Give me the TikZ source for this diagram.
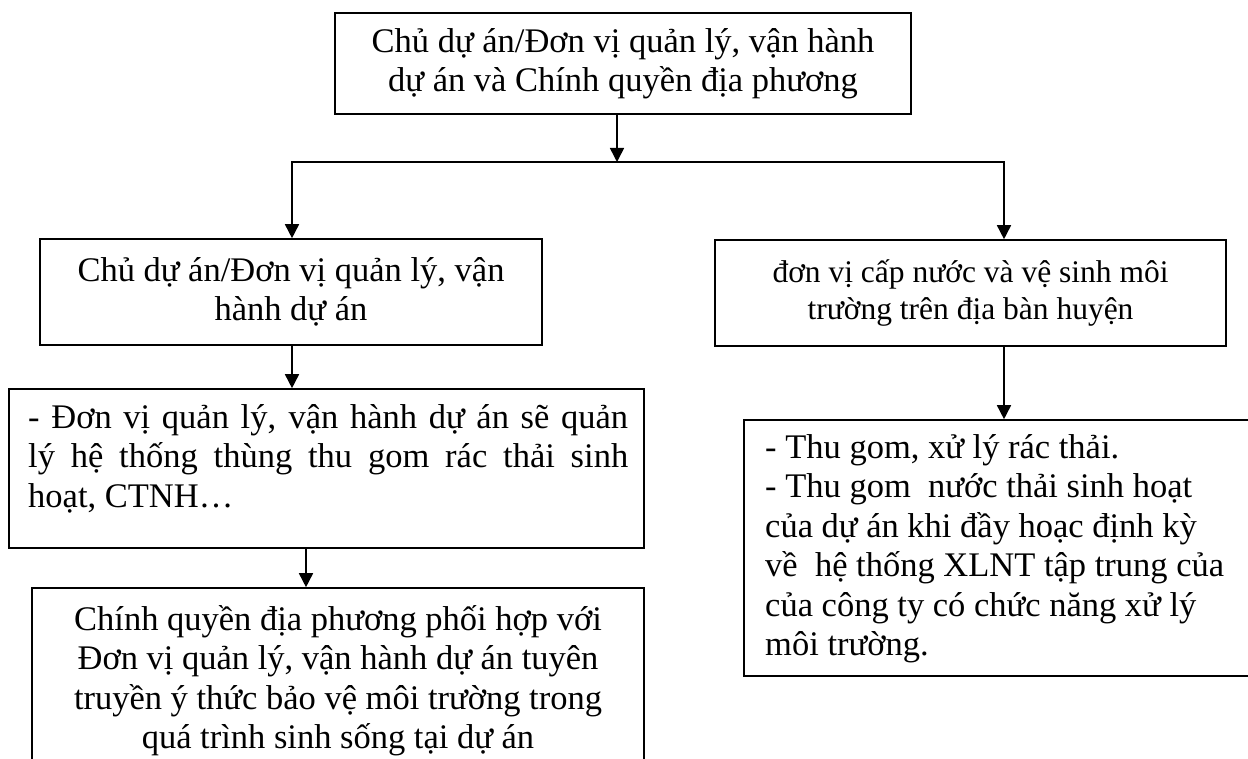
\documentclass[tikz,border=0pt]{standalone}
\usepackage{fontspec}
\setmainfont{Liberation Serif}
\usetikzlibrary{arrows.meta}
\begin{document}
\begin{tikzpicture}[x=1pt,y=-1pt,
  box/.style={draw,line width=1.6pt,rectangle,inner sep=0pt},
  conn/.style={line width=1.6pt},
  arr/.style={conn,-{Triangle[width=14pt,length=14pt]}},
  big/.style={font=\fontsize{34.5}{39.5}\selectfont},
  mid/.style={font=\fontsize{31.5}{37}\selectfont},
  txt/.style={inner sep=0pt}]
\useasboundingbox (0,0) rectangle (1248,759);
\fill[white] (0,0) rectangle (1248,759);
% boxes
\node[box,big,align=center,minimum width=576pt,minimum height=101pt] (top) at (623,63.5)
  {Chủ dự án/Đơn vị quản lý, vận hành\\dự án và Chính quyền địa phương};
\node[box,big,align=center,minimum width=502pt,minimum height=106pt] (b1) at (291,292)
  {Chủ dự án/Đơn vị quản lý, vận\\hành dự án};
\node[box,mid,align=center,minimum width=511pt,minimum height=106pt] (r1) at (970.5,293)
  {đơn vị cấp nước và vệ sinh môi\\trường trên địa bàn huyện};
\node[box,minimum width=635pt,minimum height=159pt] (b2) at (326.5,468.5) {};
\node[box,minimum width=612pt,minimum height=212pt] (b3) at (338,694) {};
\node[box,minimum width=518pt,minimum height=256pt] (r2) at (1003,548) {};
% texts
\node[txt,big,anchor=north west,align=left] (t2) at (28,400.4)
  {\strut\hbox to 600pt{- Đơn vị quản lý, vận hành dự án sẽ quản}\\
   \hbox to 600pt{lý hệ thống thùng thu gom rác thải sinh}\\
   hoạt, CTNH…};
\node[txt,big,anchor=north,align=center] (t3) at (338,602.4)
  {\strut Chính quyền địa phương phối hợp với\\
   Đơn vị quản lý, vận hành dự án tuyên\\
   truyền ý thức bảo vệ môi trường trong\\
   quá trình sinh sống tại dự án};
\node[txt,big,anchor=north west,align=left] (tr2) at (765,430.4)
  {\strut - Thu gom, xử lý rác thải.\\
   - Thu gom~ nước thải sinh hoạt\\
   của dự án khi đầy hoạc định kỳ\\
   về~ hệ thống XLNT tập trung của\\
   của công ty có chức năng xử lý\\
   môi trường.};
% connectors
\coordinate (jt) at (617,162);
\coordinate (jl) at (292,162);
\coordinate (jr) at (1004,162);
\coordinate (k) at (306,0);
\draw[arr] (top.south -| jt) -- (jt);
\draw[arr] (jr) -- (jl) -- (jl |- b1.north);
\draw[arr] (jl) -- (jr) -- (jr |- r1.north);
\draw[arr] (b1.south -| jl) -- (jl |- b2.north);
\draw[arr] (k |- b2.south) -- (k |- b3.north);
\draw[arr] (jr |- r1.south) -- (jr |- r2.north);
\end{tikzpicture}
\end{document}
